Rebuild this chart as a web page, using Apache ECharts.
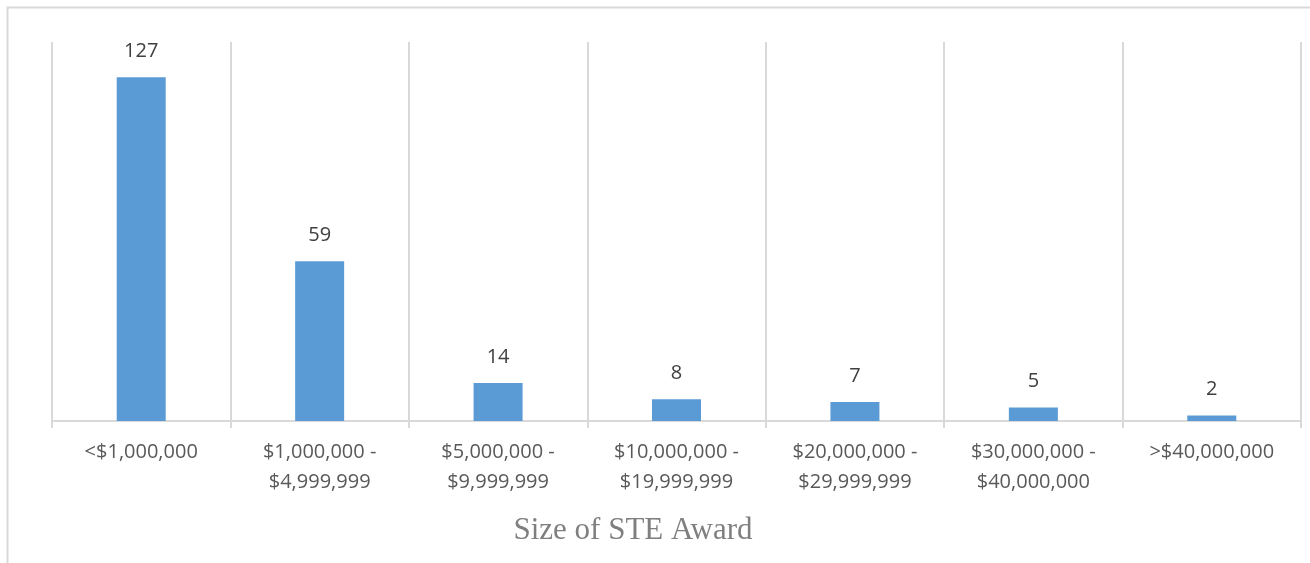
<!DOCTYPE html>
<html>
<head>
<meta charset="utf-8">
<script src="https://cdn.jsdelivr.net/npm/echarts@6/dist/echarts.min.js"></script>
<style>
  html, body { margin: 0; padding: 0; background: #fff; }
  #chart { width: 1310px; height: 563px; }
</style>
</head>
<body>
<div id="chart"></div>
<script>
const categories = [
  '<$1,000,000',
  '$1,000,000 -\n$4,999,999',
  '$5,000,000 -\n$9,999,999',
  '$10,000,000 -\n$19,999,999',
  '$20,000,000 -\n$29,999,999',
  '$30,000,000 -\n$40,000,000',
  '>$40,000,000'
]
const awardCounts = [127, 59, 14, 8, 7, 5, 2]
const axisTitle = 'Size of STE Award'

const chart = echarts.init(document.getElementById('chart'))
chart.setOption({
  animation: false,
  graphic: [{
    type: 'rect',
    shape: { x: 7.5, y: 7.5, width: 1400, height: 700 },
    style: { fill: 'none', stroke: '#d9d9d9', lineWidth: 2 },
    silent: true
  }],
  title: {
    text: axisTitle,
    left: 633,
    top: 515,
    textAlign: 'center',
    padding: 0,
    textStyle: {
      color: '#7f7f7f',
      fontFamily: 'Liberation Serif',
      fontSize: 31,
      fontWeight: 'normal'
    }
  },
  grid: {
    left: 52,
    right: 9,
    top: 42,
    bottom: 142
  },
  xAxis: {
    type: 'category',
    data: categories,
    boundaryGap: true,
    axisLine: { lineStyle: { color: '#d9d9d9', width: 2 } },
    axisTick: { show: true, length: 7, lineStyle: { color: '#d9d9d9', width: 2 } },
    splitLine: { show: true, lineStyle: { color: '#d9d9d9', width: 2 } },
    axisLabel: {
      color: '#595959',
      fontFamily: 'Open Sans',
      fontSize: 20,
      lineHeight: 30,
      margin: 16,
      interval: 0
    }
  },
  yAxis: {
    type: 'value',
    min: 0,
    max: 140,
    show: false
  },
  series: [{
    type: 'bar',
    data: awardCounts,
    barWidth: 49,
    itemStyle: { color: '#5b9bd5' },
    label: {
      show: true,
      position: 'top',
      distance: 16,
      color: '#404040',
      fontFamily: 'Open Sans',
      fontSize: 20
    }
  }]
})
</script>
</body>
</html>
